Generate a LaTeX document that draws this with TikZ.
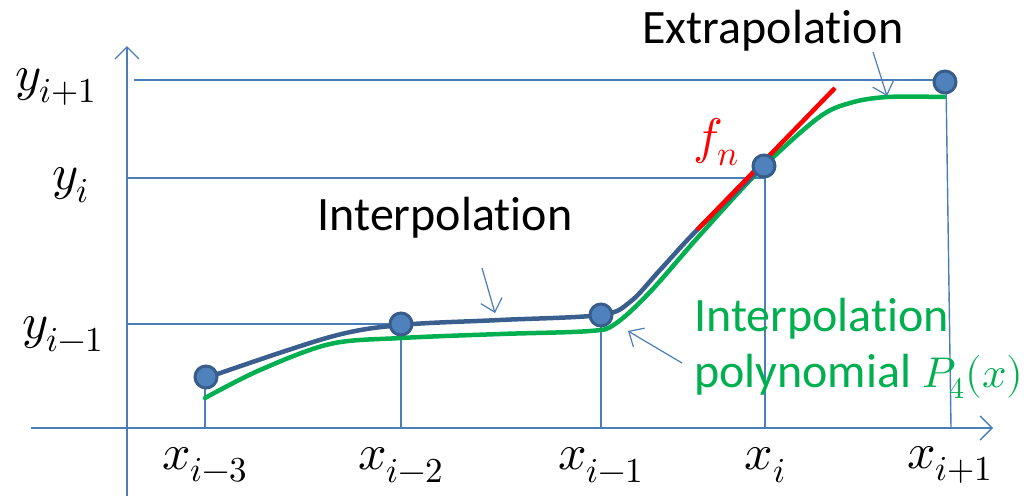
\documentclass[tikz,border=0pt]{standalone}
\usepackage{fontspec}
\usepackage{unicode-math}
\setmainfont{Carlito}[Ligatures=NoCommon]
\setmathfont{Latin Modern Math}
\usetikzlibrary{arrows.meta}
\definecolor{axisblue}{HTML}{4A7EBB}
\definecolor{ptfill}{HTML}{4F81BD}
\definecolor{ptline}{HTML}{385D8A}
\definecolor{curveblue}{HTML}{3A5F8F}
\definecolor{mygreen}{HTML}{00B050}
\tikzset{
  axisline/.style={draw=axisblue, line width=1.6pt},
  gridline/.style={draw=axisblue, line width=1.4pt},
  axisarrow/.style={-{Straight Barb[length=12pt,width=24pt,line width=1.4pt]}},
  callout/.style={draw=axisblue, line width=1.2pt, -{Straight Barb[length=12pt,width=22pt,line width=1.2pt]}},
  datapt/.style={circle, fill=ptfill, draw=ptline, line width=3pt, minimum size=22pt, inner sep=0pt},
  lbl/.style={font=\fontsize{50}{52}\selectfont, inner sep=0pt},
  txt/.style={font=\fontsize{48}{56}\selectfont, inner sep=0pt},
}
\begin{document}
\begin{tikzpicture}[x=1pt,y=-1pt]
\useasboundingbox (0,0) rectangle (1032,496);
% coordinates
\coordinate (yb) at (127,496);
\coordinate (yt) at (127,46);
\coordinate (xl) at (31,428);
\coordinate (xr) at (993,428);
% grid lines
\draw[gridline] (134,80) -- (946,80);
\draw[gridline] (127,178) -- (764,178);
\draw[gridline] (127,324) -- (401,324);
\draw[gridline] (205,378) -- (205,428);
\draw[gridline] (401,324) -- (401,428);
\draw[gridline] (601,315) -- (601,428);
\draw[gridline] (765,166) -- (765,428);
\draw[gridline] (946,82) -- (951,428);
% axes
\draw[axisline, axisarrow] (yb) -- (yt);
\draw[axisline, axisarrow] (xl) -- (xr);
% green curve
\draw[mygreen, line width=4.5pt, line cap=round] plot[smooth, tension=0.55] coordinates {(205,398) (260,370) (330,344) (401,338) (500,334) (590,331) (615,324) (650,292) (700,235) (760,170) (818,118) (850,103) (887,97) (944,97)};
% blue curve
\draw[curveblue, line width=4.5pt, line cap=round] plot[smooth, tension=0.55] coordinates {(206,378) (330,337) (401,325) (500,320) (600,315) (630,302) (660,270) (697,230) (763,166)};
% red tangent
\coordinate (fa) at (697,230);
\coordinate (fb) at (835,88);
\draw[red, line width=4.5pt] (fa) -- (fb);
% points
\node[datapt] (p1) at (206,377) {};
\node[datapt] (p2) at (401,324) {};
\node[datapt] (p3) at (601,315) {};
\node[datapt] (p4) at (764,166) {};
\node[datapt] (p5) at (945,82) {};
% labels
\node[lbl] (ly3) at (56,87) {$y_{i+1}$};
\node[lbl] (ly2) at (71,185) {$y_{i}$};
\node[lbl] (ly1) at (63,334) {$y_{i-1}$};
\node[lbl] (lx1) at (205,465) {$x_{i-3}$};
\node[lbl] (lx2) at (401,465) {$x_{i-2}$};
\node[lbl] (lx3) at (601,465) {$x_{i-1}$};
\node[lbl] (lx4) at (765,465) {$x_{i}$};
\node[lbl] (lx5) at (950,465) {$x_{i+1}$};
\node[lbl, text=red] (lf) at (716,142) {$f_n$};
% texts
\node[txt] (extra) at (773,31) {Extrapolation};
\node[txt] (inter) at (445,218) {Interpolation};
\node[txt, text=mygreen, align=left, anchor=north west] (poly) at (694,298) {Interpolation\\polynomial {\fontsize{43}{50}\selectfont$P_4(x)$}};
% callouts
\coordinate (ea) at (873,52);
\coordinate (eb) at (887,96);
\draw[callout] (ea) -- (eb);
\coordinate (ia) at (482,268);
\coordinate (ib) at (495,313);
\draw[callout] (ia) -- (ib);
\coordinate (ga) at (682,363);
\coordinate (gb) at (628,331);
\draw[callout] (ga) -- (gb);
\end{tikzpicture}
\end{document}
